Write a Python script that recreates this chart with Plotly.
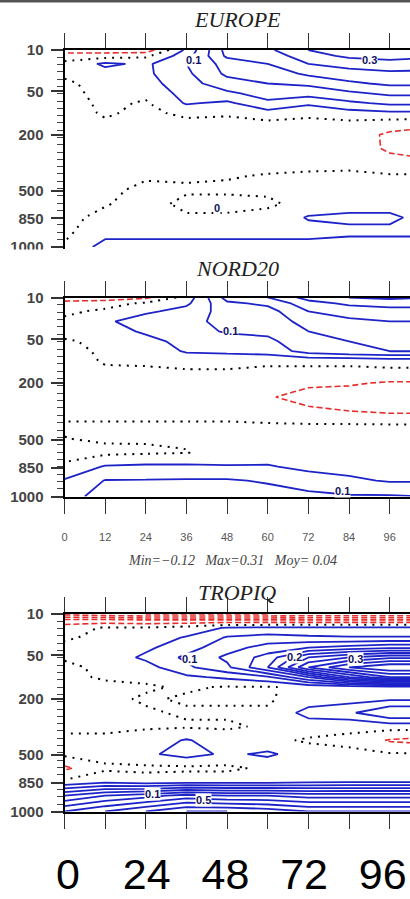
import numpy as np
import plotly.graph_objects as go

# ---------------- data (values in hundredths) ----------------
HOURS = [0, 12, 24, 36, 48, 60, 72, 84, 96, 108]
# model-level coordinate of each grid row (0 = 10 hPa top, 100 = 1000 hPa)
LEVEL_POS = [0, 3, 7, 12, 17, 22, 27, 32, 37, 43, 50, 57, 64, 71, 78, 85, 92, 100]
PRESSURE_LABELS = ["10", "50", "200", "500", "850", "1000"]
PRESSURE_POS = [0, 21, 43, 71.5, 85.5, 100]
X_TICKS = [0, 12, 24, 36, 48, 60, 72, 84, 96]
X_LABELS_SMALL = ["0", "12", "24", "36", "48", "60", "72", "84", "96"]
X_BIG_TICKS = [0, 24, 48, 72, 96]
X_LABELS_BIG = ["0", "24", "48", "72", "96"]

EUROPE = [
    [-8, -8, -8, 6, 22, 24, 30, 33, 34, 33],
    [-2, -2, -1, 8, 21, 22, 28, 31, 32, 31],
    [1, 6, 4, 10, 17, 20, 25, 27, 28, 27],
    [1, 3, 4, 9, 16, 17, 21, 23, 24, 24],
    [-1, 2, 3, 8, 13, 15, 16, 19, 21, 21],
    [-2, 2, 1, 7, 9, 12, 12, 14, 16, 16],
    [-2, 1, -0.5, 5.5, 4, 9, 6, 9, 11, 11],
    [-2, 0.5, -1, 1, 0.5, 3, 1, 3, 4, 4],
    [-2, -0.5, -1.5, -1, -1, -1, -1, -1, -2, -3],
    [-2, -2, -2, -2, -2, -2, -2, -2, -6, -8],
    [-2, -2, -2, -2, -2, -2, -1.5, -1.5, -6, -8],
    [-2, -2, -1.5, -1.5, -1, -1, -1, -1.5, -3, -4],
    [-2, -1.5, -0.5, -0.5, -0.2, 0.2, 0.5, 1, 0.5, 0.5],
    [-1.5, -1, 1, 0.5, 0.5, 0.5, 1.5, 2, 2, 2],
    [-1.5, -0.3, 1.5, -1, -1, -0.5, 1, 3, 3, 2],
    [-1, 1, 2, 0.5, 0.5, 1, 5.5, 6, 6, 3],
    [-1, 3, 3, 3, 3, 3, 3, 4, 4, 4],
    [0.5, 7, 7, 7, 7, 7, 7, 7, 7, 7],
]

NORD20 = [
    [-8, -8, -6, 2, 17, 20, 27, 30, 31, 30],
    [-3, -2, 1, 4, 14, 16, 23, 26, 27, 27],
    [-1, 1, 4, 7, 12, 13, 20, 22, 23, 23],
    [1, 4, 8, 9, 11, 12, 17, 19, 20, 20],
    [1.5, 2, 6, 8, 10.5, 11, 15, 17, 18, 18],
    [-0.5, 1, 3, 7, 8, 9, 13, 15, 16, 16],
    [-1, 0.5, 2, 5.5, 6, 7, 12, 14, 15, 15],
    [-1.5, 0.3, 1, 2, 2, 1, 1, 1, 2, 2],
    [-2, -0.5, -1, -0.5, -0.5, -1, -1, -1, -1, -1],
    [-2, -1.5, -2, -2, -2, -2.5, -4, -4.5, -5.5, -5.5],
    [-2, -2, -2, -2.5, -3, -4.5, -7, -7, -8, -8],
    [-1.5, -1.5, -1.5, -1.5, -1.5, -2, -4, -5, -6, -6],
    [0.5, 0.5, 0.5, 0.5, 0.5, 0.3, 0.3, 0.3, 0.2, 0.2],
    [-0.1, 0.5, 0.3, 0.3, 1, 1, 1, 1, 1, 1],
    [-1, -1, -0.5, -0.1, 1, 2, 2, 2, 2, 2],
    [0.5, 5.5, 6, 6, 5.5, 5.5, 3.5, 3, 3, 3],
    [5.5, 10.2, 10.3, 10.5, 10.5, 9.5, 8, 6, 4.5, 4.5],
    [9, 11, 12, 13, 12, 12, 11, 10.5, 10.5, 10],
]

TROPIQ = [
    [-22, -24, -25, -25, -25, -25, -24, -24, -24, -24],
    [-9, -9, -10, -10, -10, -10, -10, -10, -10, -10],
    [-2, 0.5, 0.5, 2, 5.5, 6, 6, 6, 6, 6],
    [-0.5, 1, 2, 5.5, 10.5, 12, 11, 10.5, 10.5, 10.5],
    [1, 2, 4, 8, 13, 17, 20, 22, 24, 24],
    [0.5, 2, 6, 11, 16, 22, 35, 40, 44, 44],
    [-1, 1, 3, 9, 14, 25, 45, 55, 60, 60],
    [-1, 0.5, 1, 4, 6, 9, 20, 35, 45, 45],
    [-1, -1, -0.5, 0.5, -0.3, -0.3, 1, 2, 3, 3],
    [-1, -1, 0.5, -0.5, -0.5, -0.5, 2, 3, 4, 4],
    [-1, -1, -0.5, 0.5, 0.5, 0.5, 7, 9, 15, 15],
    [-0.5, -0.5, -0.5, -0.5, -0.5, 0.5, 2, 1, 2, 2],
    [0.5, 0.5, 2, 5.5, 2, 1, -0.5, -1, -5.5, -7],
    [1, 2, 4, 7, 4, 6, 2, 1, 0.5, 0.5],
    [-6, -1, -1, -1, -1, 1, 2, 3, 3, 3],
    [1, 4, 2, 3, 3, 3, 4, 4.5, 4.5, 4.5],
    [20, 25, 28, 32, 30, 30, 28, 28, 28, 28],
    [35, 40, 45, 50, 50, 48, 45, 45, 45, 45],
]

PANEL_NAMES = ["EUROPE", "NORD20", "TROPIQ"]
STATS_TEXT = "Min=−0.12   Max=0.31   Moy= 0.04"

# contour labels: (panel, hour, level position, text)
CONTOUR_LABELS = [
    (0, 38, 5, "0.1"), (0, 90, 5, "0.3"), (0, 45, 80, "0"),
    (1, 49, 17, "0.1"), (1, 82, 97, "0.1"),
    (2, 37, 23, "0.1"), (2, 68, 22, "0.2"), (2, 86, 23, "0.3"),
    (2, 26, 91, "0.1"), (2, 41, 94, "0.5"),
]

# ---------------- styling / layout ----------------
W, H = 410, 899
BLUE = "rgb(30,35,200)"
RED = "rgb(230,45,45)"


def py(px):
    return 1 - px / H


# pixel extents of the three plot areas (top, bottom)
PANEL_PX = [(50, 249), (297.5, 496.5), (614, 811.5)]
Y_RANGES = [[101, 0], [100, 0], [100, 0]]
X_DOMAIN = [64.5 / W, 1.0]

fig = go.Figure()

for i, z in enumerate([EUROPE, NORD20, TROPIQ]):
    xa = "x" if i == 0 else f"x{i+1}"
    ya = "y" if i == 0 else f"y{i+1}"
    zz = np.array(z, dtype=float) / 100.0
    common = dict(x=HOURS, y=LEVEL_POS, z=zz, xaxis=xa, yaxis=ya,
                  showscale=False, hoverinfo="skip")
    fig.add_trace(go.Contour(**common,
                             contours=dict(coloring="lines", start=-0.3, end=-0.05, size=0.05),
                             colorscale=[[0, RED], [1, RED]],
                             line=dict(width=1.6, dash="6px,3px", smoothing=0)))
    fig.add_trace(go.Contour(**common,
                             contours=dict(coloring="lines", start=0, end=0, size=1),
                             colorscale=[[0, "black"], [1, "black"]],
                             line=dict(width=2, dash="2px,6px", smoothing=0)))
    fig.add_trace(go.Contour(**common,
                             contours=dict(coloring="lines", start=0.05, end=0.7, size=0.05),
                             colorscale=[[0, BLUE], [1, BLUE]],
                             line=dict(width=1.8, smoothing=0)))

# empty trace so that the label-only axis of the last panel is drawn
fig.add_trace(go.Scatter(x=[], y=[], xaxis="x4", yaxis="y3", showlegend=False,
                         hoverinfo="skip"))

layout = dict(width=W, height=H, margin=dict(l=0, r=0, t=0, b=0, autoexpand=False),
              paper_bgcolor="white", plot_bgcolor="white", showlegend=False)

for i in range(3):
    top, bot = PANEL_PX[i]
    xkey = "xaxis" if i == 0 else f"xaxis{i+1}"
    ykey = "yaxis" if i == 0 else f"yaxis{i+1}"
    yname = "y" if i == 0 else f"y{i+1}"
    xname = "x" if i == 0 else f"x{i+1}"
    xa = dict(domain=X_DOMAIN, range=[0, 102], anchor=yname, automargin=False,
              tickmode="array", tickvals=X_TICKS, ticks="outside", ticklen=15,
              tickwidth=1.3, tickcolor="#333", showline=True, linecolor="black",
              linewidth=2, showgrid=False, zeroline=False)
    if i == 0:
        xa.update(side="top", showticklabels=False, mirror=False)
    elif i == 1:
        xa.update(side="bottom", mirror="ticks", ticktext=X_LABELS_SMALL,
                  tickfont=dict(family="Liberation Sans", size=11, color="#555"),
                  ticklabelstandoff=14)
    else:
        xa.update(side="bottom", mirror="ticks", showticklabels=False)
    layout[xkey] = xa
    layout[ykey] = dict(domain=[py(bot), py(top)], range=Y_RANGES[i], anchor=xname,
                        automargin=False,
                        tickmode="array", tickvals=PRESSURE_POS, ticktext=PRESSURE_LABELS,
                        ticks="outside", ticklen=12, tickwidth=1.5, tickcolor="#333",
                        minor=dict(ticks="outside", ticklen=6, tickmode="linear",
                                   tick0=0, dtick=3.7, tickcolor="#444", tickwidth=1.3),
                        showline=True, linecolor="black", linewidth=2,
                        showgrid=False, zeroline=False, ticklabelstandoff=4,
                        tickfont=dict(family="Liberation Sans", size=15, color="#444",
                                      weight="bold"))

# label-only hour axis under the last panel (large labels)
layout["xaxis4"] = dict(domain=X_DOMAIN, range=[-1.07, 104.3], anchor="y3",
                        overlaying="x3", side="bottom", tickmode="array", automargin=False,
                        tickvals=X_BIG_TICKS, ticktext=X_LABELS_BIG, ticks="",
                        showline=False, showgrid=False, zeroline=False,
                        ticklabelstandoff=33, ticklabeloverflow="allow",
                        tickfont=dict(family="Liberation Sans", size=43, color="black"))

fig.update_layout(**layout)

annotations = []
TITLE_PX = [20, 268, 592]
for i, name in enumerate(PANEL_NAMES):
    annotations.append(dict(text=name, xref="paper", yref="paper",
                            x=(X_DOMAIN[0] + X_DOMAIN[1]) / 2, y=py(TITLE_PX[i]),
                            xanchor="center", yanchor="middle", showarrow=False,
                            font=dict(family="Liberation Serif", size=22, color="#222",
                                      style="italic")))
annotations.append(dict(text=STATS_TEXT, xref="paper", yref="paper",
                        x=233 / W, y=py(560), xanchor="center", yanchor="middle",
                        showarrow=False,
                        font=dict(family="Liberation Serif", size=14, color="#444",
                                  style="italic")))
for p, hx, lv, txt in CONTOUR_LABELS:
    xr = "x" if p == 0 else f"x{p+1}"
    yr = "y" if p == 0 else f"y{p+1}"
    annotations.append(dict(text=txt, xref=xr, yref=yr, x=hx, y=lv, showarrow=False,
                            font=dict(family="Liberation Sans", size=11, color="#101060",
                                      weight="bold"),
                            bgcolor="white", borderpad=0))
fig.update_layout(annotations=annotations)

fig.update_layout(shapes=[
    # white strip hiding the bottom of the first (cropped) panel
    dict(type="rect", xref="paper", yref="paper", x0=0, x1=1, y0=py(262), y1=py(249.5),
         fillcolor="white", line=dict(width=0), layer="above"),
    # dark border at the very top
    dict(type="line", xref="paper", yref="paper", x0=0, x1=1, y0=py(1), y1=py(1),
         line=dict(color="#555", width=3), layer="above"),
])

fig.write_html("out.html")
